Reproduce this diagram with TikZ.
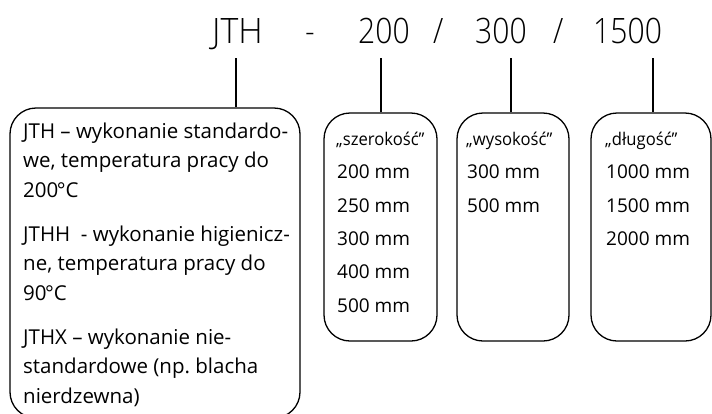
\documentclass[tikz,border=0pt]{standalone}
\usepackage{fontspec}
\setmainfont{Open Sans}
\IfFontExistsTF{Open Sans Light}
  {\newfontfamily\titlefont[FakeStretch=0.86]{Open Sans Light}%
   \newfontfamily\titlefontwide[FakeStretch=0.97]{Open Sans Light}}
  {\newfontfamily\titlefont[FakeStretch=0.86]{Open Sans}%
   \newfontfamily\titlefontwide[FakeStretch=0.97]{Open Sans}}
\newfontfamily\headfont[FakeStretch=0.95]{Open Sans}
\frenchspacing
\begin{document}
\begin{tikzpicture}[x=1pt,y=-1pt,
  card/.style={draw, line width=1.3pt, rounded corners=26pt, inner sep=0pt},
  link/.style={line width=2pt},
  ttl/.style={font=\titlefont\fontsize{35}{35}\selectfont, inner sep=0pt, anchor=base west},
  ttlwide/.style={ttl, font=\titlefontwide\fontsize{35}{35}\selectfont},
  bigtxt/.style={font=\fontsize{20.5}{24}\selectfont, inner sep=0pt, anchor=base west},
  smalltxt/.style={font=\fontsize{19}{22}\selectfont, inner sep=0pt, anchor=base west},
  headtxt/.style={font=\headfont\fontsize{17.5}{22}\selectfont, inner sep=0pt, anchor=base west}]
\useasboundingbox (0,0) rectangle (712,413);

% type designation
\node[ttlwide] (tJTH) at (212,43) {JTH};
\node[ttl] (tdash) at (305,43) {-};
\node[ttl] (tw) at (358,43) {200};
\node[ttl] (ts1) at (433,43) {/};
\node[ttl] (th) at (475,43) {300};
\node[ttl] (ts2) at (553,43) {/};
\node[ttl] (tl) at (593,43) {1500};

% boxes
\node[card, minimum width=290pt, minimum height=310pt] (b1) at (155,263) {};
\node[card, minimum width=113pt, minimum height=228pt] (b2) at (380.5,227) {};
\node[card, minimum width=112pt, minimum height=228pt] (b3) at (513,227) {};
\node[card, minimum width=120pt, minimum height=228pt] (b4) at (651,227) {};

% leader lines
\coordinate (c1) at (236,58);
\coordinate (c2) at (381,58);
\coordinate (c3) at (511,58);
\coordinate (c4) at (653,58);
\draw[link] (c1) -- (c1 |- b1.north);
\draw[link] (c2) -- (c2 |- b2.north);
\draw[link] (c3) -- (c3 |- b3.north);
\draw[link] (c4) -- (c4 |- b4.north);

% execution variants
\foreach \y/\t [count=\i] in {
  138/{JTH – wykonanie standardo-},
  167.5/{we, temperatura pracy do},
  197/{200\kern-1.5pt°C},
  241/{JTHH\ \ - wykonanie higienicz-},
  270.5/{ne, temperatura pracy do},
  300/{90\kern-1.5pt°C},
  344/{JTHX – wykonanie nie-},
  373.5/{standardowe (np. blacha},
  403/{nierdzewna)}}
  \node[bigtxt] (v\i) at (23,\y) {\t};

% width
\node[headtxt] (wh) at (336,145) {„szerokość”};
\foreach \y/\t [count=\i] in {178.5/200, 212/250, 245/300, 278.5/400, 312/500}
  \node[smalltxt] (w\i) at (337,\y) {\t\ mm};

% height
\node[headtxt] (hh) at (466,145) {„wysokość”};
\foreach \y/\t [count=\i] in {178.5/300, 212/500}
  \node[smalltxt] (h\i) at (467,\y) {\t\ mm};

% length
\node[headtxt] (lh) at (605,145) {„długość”};
\foreach \y/\t [count=\i] in {178.5/1000, 212/1500, 245/2000}
  \node[smalltxt] (l\i) at (606,\y) {\t\ mm};
\end{tikzpicture}
\end{document}
